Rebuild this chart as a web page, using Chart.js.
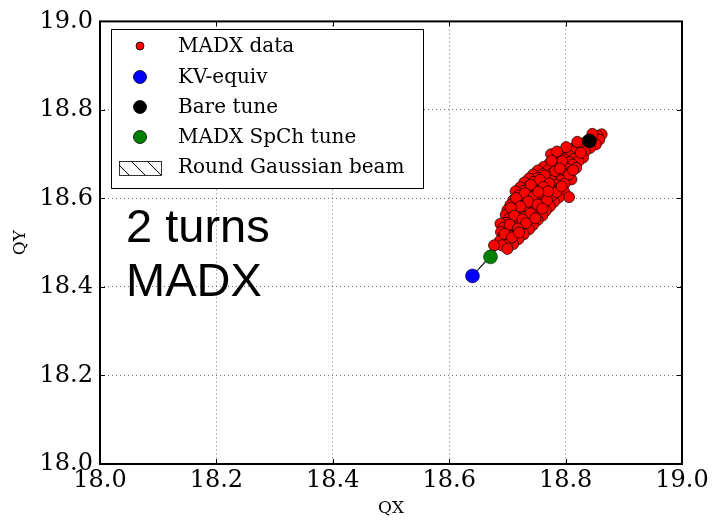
<!DOCTYPE html>
<html>
<head>
<meta charset="utf-8">
<script src="https://cdn.jsdelivr.net/npm/chart.js@4.4.0/dist/chart.umd.min.js"></script>
<style>
  html, body { margin: 0; padding: 0; background: #fff; }
</style>
</head>
<body>
<canvas id="canvas1" width="712" height="521"></canvas>
<script>
// tune footprint after 2 turns (QX, QY)

let madxData = [
    [18.862,18.745],[18.855,18.741],[18.848,18.736],[18.858,18.733],[18.838,18.731],[18.846,18.727],
    [18.829,18.724],[18.852,18.722],[18.836,18.719],[18.818,18.718],[18.842,18.714],[18.826,18.712],
    [18.808,18.711],[18.833,18.706],[18.815,18.705],[18.798,18.703],[18.775,18.700],[18.824,18.699],
    [18.806,18.697],[18.790,18.695],[18.830,18.692],[18.815,18.690],[18.798,18.688],[18.781,18.687],
    [18.822,18.684],[18.806,18.682],[18.789,18.680],[18.772,18.679],[18.812,18.676],[18.796,18.674],
    [18.780,18.672],[18.762,18.671],[18.818,18.669],[18.803,18.667],[18.786,18.665],[18.770,18.664],
    [18.752,18.663],[18.808,18.660],[18.793,18.658],[18.777,18.657],[18.760,18.655],[18.744,18.654],
    [18.800,18.651],[18.785,18.650],[18.768,18.648],[18.752,18.646],[18.737,18.645],[18.810,18.643],
    [18.792,18.641],[18.776,18.640],[18.760,18.638],[18.744,18.637],[18.729,18.636],[18.798,18.633],
    [18.783,18.631],[18.767,18.630],[18.751,18.629],[18.736,18.627],[18.722,18.625],[18.790,18.623],
    [18.774,18.621],[18.758,18.620],[18.742,18.619],[18.727,18.617],[18.714,18.616],[18.798,18.614],
    [18.781,18.612],[18.765,18.611],[18.749,18.609],[18.734,18.608],[18.719,18.607],[18.806,18.603],
    [18.788,18.602],[18.772,18.601],[18.756,18.600],[18.740,18.598],[18.725,18.597],[18.710,18.596],
    [18.780,18.592],[18.764,18.591],[18.748,18.589],[18.733,18.588],[18.718,18.587],[18.705,18.585],
    [18.773,18.582],[18.757,18.581],[18.741,18.579],[18.727,18.578],[18.713,18.576],[18.700,18.574],
    [18.766,18.572],[18.750,18.571],[18.735,18.569],[18.721,18.568],[18.708,18.566],[18.697,18.563],
    [18.760,18.561],[18.744,18.560],[18.729,18.558],[18.715,18.557],[18.703,18.555],[18.752,18.551],
    [18.737,18.550],[18.722,18.548],[18.709,18.547],[18.698,18.545],[18.688,18.543],[18.744,18.540],
    [18.730,18.539],[18.716,18.537],[18.704,18.536],[18.693,18.534],[18.737,18.530],[18.723,18.529],
    [18.710,18.527],[18.699,18.526],[18.689,18.524],[18.728,18.519],[18.715,18.518],[18.703,18.516],
    [18.693,18.515],[18.719,18.508],[18.707,18.507],[18.697,18.505],[18.687,18.504],[18.710,18.497],
    [18.699,18.495],[18.690,18.494],[18.677,18.494],[18.700,18.486],
    [18.846,18.746],[18.820,18.728],[18.801,18.716],[18.785,18.706],[18.826,18.703],[18.794,18.684],
    [18.776,18.685],[18.782,18.662],[18.764,18.652],[18.790,18.668],[18.756,18.642],[18.772,18.634],
    [18.740,18.631],[18.762,18.626],[18.730,18.612],[18.776,18.606],[18.745,18.604],[18.715,18.601],
    [18.768,18.596],[18.736,18.593],[18.722,18.582],[18.752,18.586],[18.706,18.579],[18.740,18.566],
    [18.712,18.561],[18.726,18.553],[18.732,18.544],[18.704,18.541],[18.718,18.532],[18.695,18.520],
    [18.708,18.512],[18.720,18.523],[18.784,18.614],[18.793,18.627],[18.770,18.616],[18.806,18.654],
    [18.813,18.664],[18.753,18.615],[18.760,18.577],[18.748,18.555]
];

let kvTune   = [18.640, 18.425];
let bareTune = [18.841, 18.730];
let spchTune = [18.671, 18.468];

// contour of the round gaussian beam footprint
let gaussQx = [18.671, 18.640, 18.841, 18.671];
let gaussQy = [18.468, 18.425, 18.730, 18.468];

let tickValues = [18.0, 18.2, 18.4, 18.6, 18.8, 19.0];

let serif = '"DejaVu Serif", "Liberation Serif", serif';

function toPoints(list){
    return list.map(function(p){ return {x: p[0], y: p[1]}; });
}

// cadre noir + petites graduations vers l'intérieur
let framePlugin = {
    id: 'frame',
    afterDatasetsDraw: function(chart){
        let ctx = chart.ctx;
        let a = chart.chartArea;
        let sx = chart.scales.x;
        let sy = chart.scales.y;
        ctx.save();
        ctx.strokeStyle = '#000';
        ctx.lineWidth = 1;
        ctx.beginPath();
        tickValues.forEach(function(v){
            let px = Math.round(sx.getPixelForValue(v)) + 0.5;
            ctx.moveTo(px, a.bottom); ctx.lineTo(px, a.bottom - 5);
            ctx.moveTo(px, a.top); ctx.lineTo(px, a.top + 5);
            let py = Math.round(sy.getPixelForValue(v)) + 0.5;
            ctx.moveTo(a.left, py); ctx.lineTo(a.left + 5, py);
            ctx.moveTo(a.right, py); ctx.lineTo(a.right - 5, py);
        });
        ctx.stroke();
        ctx.lineWidth = 2;
        ctx.strokeRect(a.left, a.top, a.right - a.left, a.bottom - a.top);
        ctx.restore();
    }
};

// texte + légende dans la zone du graphe
let legendPlugin = {
    id: 'boxLegend',
    afterDraw: function(chart){
        let ctx = chart.ctx;
        ctx.save();
        ctx.font = '47px "Liberation Sans", Arial, sans-serif';
        ctx.fillStyle = '#000';
        ctx.textBaseline = 'alphabetic';
        ctx.fillText('2 turns', 126, 242);
        ctx.fillText('MADX', 126, 296);

        let bx = 111, by = 29, bw = 312, bh = 159;
        ctx.fillStyle = '#fff';
        ctx.fillRect(bx, by, bw, bh);
        ctx.strokeStyle = '#000';
        ctx.lineWidth = 1;
        ctx.strokeRect(bx + 0.5, by + 0.5, bw, bh);

        let rows = [46, 77, 107, 137, 167];
        let sets = chart.data.datasets;
        ctx.font = '20px ' + serif;
        ctx.textBaseline = 'middle';
        for (let i = 0; i < 4; i++) {
            let ds = sets[i];
            ctx.beginPath();
            ctx.arc(140, rows[i], i === 0 ? 4 : 6.5, 0, Math.PI * 2);
            ctx.fillStyle = ds.backgroundColor;
            ctx.fill();
            ctx.lineWidth = 0.8;
            ctx.strokeStyle = '#000';
            ctx.stroke();
            ctx.fillStyle = '#000';
            ctx.fillText(ds.label, 178, rows[i] + 1);
        }
        // patch hachuré
        let px = 119, py = 161, pw = 42, ph = 14;
        ctx.save();
        ctx.beginPath();
        ctx.rect(px, py, pw, ph);
        ctx.clip();
        ctx.beginPath();
        for (let k = -20; k < 70; k += 16) {
            ctx.moveTo(px + k, py);
            ctx.lineTo(px + k + ph, py + ph);
        }
        ctx.lineWidth = 1;
        ctx.stroke();
        ctx.restore();
        ctx.strokeRect(px + 0.5, py + 0.5, pw, ph);
        ctx.fillText(sets[4].label, 178, rows[4] + 1);
        ctx.restore();
    }
};

let canvas = document.getElementById('canvas1');
let ctx = canvas.getContext('2d');

let config = {
    type: 'scatter',
    data: {
        datasets: [{
            label: 'MADX data',
            data: toPoints(madxData),
            backgroundColor: '#ff0000',
            borderColor: '#000',
            borderWidth: 0.7,
            pointRadius: 5.5,
            order: 4
        }, {
            label: 'KV-equiv',
            data: toPoints([kvTune]),
            backgroundColor: '#0000ff',
            borderColor: '#000',
            borderWidth: 0.5,
            pointRadius: 7,
            order: 1
        }, {
            label: 'Bare tune',
            data: toPoints([bareTune]),
            backgroundColor: '#000000',
            borderColor: '#000',
            borderWidth: 0.5,
            pointRadius: 7,
            order: 3
        }, {
            label: 'MADX SpCh tune',
            data: toPoints([spchTune]),
            backgroundColor: '#008000',
            borderColor: '#000',
            borderWidth: 0.5,
            pointRadius: 7,
            order: 2
        }, {
            label: 'Round Gaussian beam',
            data: gaussQx.map(function(q, i){ return {x: q, y: gaussQy[i]}; }),
            showLine: true,
            fill: false,
            borderColor: '#222',
            borderWidth: 1,
            pointRadius: 0,
            backgroundColor: 'rgba(0,0,0,0)',
            order: 5
        }]
    },
    options: {
        responsive: false,
        animation: false,
        layout: { padding: { top: 19, right: 30, left: 0, bottom: 0 } },
        plugins: {
            legend: { display: false },
            tooltip: { enabled: false }
        },
        scales: {
            x: {
                type: 'linear',
                min: 18, max: 19,
                afterFit: function(scale){ scale.height = 57; },
                afterBuildTicks: function(scale){
                    scale.ticks = tickValues.map(function(v){ return {value: v}; });
                },
                ticks: {
                    color: '#000',
                    font: { family: serif, size: 24 },
                    padding: 2,
                    maxRotation: 0,
                    callback: function(v){ return v.toFixed(1); }
                },
                grid: { color: 'rgba(0,0,0,0.55)', lineWidth: 1, drawTicks: false },
                border: { display: false, dash: [1, 3] },
                title: {
                    display: true, text: 'QX', color: '#000',
                    font: { family: serif, size: 17 },
                    padding: { top: 0, bottom: 2 }
                }
            },
            y: {
                type: 'linear',
                min: 18, max: 19,
                afterFit: function(scale){ scale.width = 100; },
                afterBuildTicks: function(scale){
                    scale.ticks = tickValues.map(function(v){ return {value: v}; });
                },
                ticks: {
                    color: '#000',
                    font: { family: serif, size: 24 },
                    padding: 7,
                    callback: function(v){ return v.toFixed(1); }
                },
                grid: { color: 'rgba(0,0,0,0.55)', lineWidth: 1, drawTicks: false },
                border: { display: false, dash: [1, 3] },
                title: {
                    display: true, text: 'QY', color: '#000',
                    font: { family: serif, size: 17 },
                    padding: { top: 10, bottom: 0 }
                }
            }
        }
    },
    plugins: [framePlugin, legendPlugin]
};

let footprintChart = new Chart(ctx, config);
</script>
</body>
</html>
